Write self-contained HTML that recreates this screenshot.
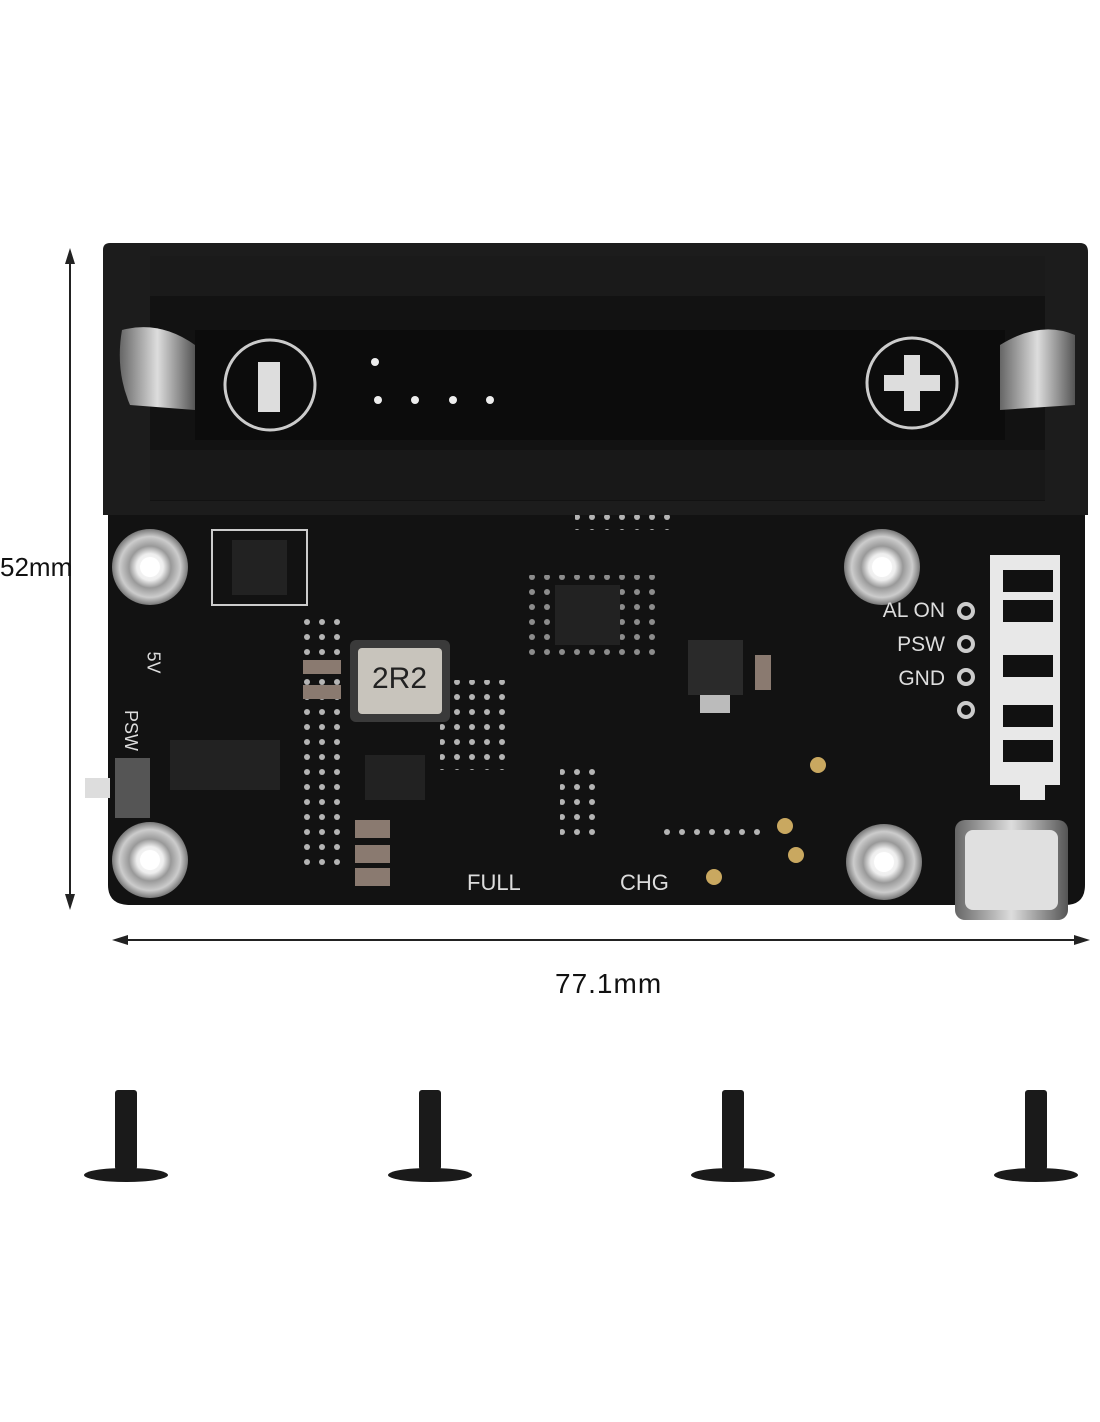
<!DOCTYPE html>
<html><head><style>
body{margin:0;width:1100px;height:1422px;background:#fff;position:relative;overflow:hidden;font-family:"Liberation Sans",sans-serif}
.a{position:absolute}
</style></head><body>
<svg class="a" style="left:0;top:0" width="1100" height="1422">
<defs>
<radialGradient id="m" cx="50%" cy="50%" r="50%"><stop offset="0" stop-color="#fff"/><stop offset=".35" stop-color="#eee"/><stop offset=".55" stop-color="#999"/><stop offset=".8" stop-color="#ccc"/><stop offset="1" stop-color="#777"/></radialGradient>
<linearGradient id="c" x1="0" x2="1"><stop offset="0" stop-color="#666"/><stop offset=".5" stop-color="#ddd"/><stop offset="1" stop-color="#555"/></linearGradient>
<pattern id="d" width="15" height="15" patternUnits="userSpaceOnUse"><circle cx="7" cy="7" r="3" fill="#ddd"/></pattern>
</defs>
<line x1="70" y1="258" x2="70" y2="900" stroke="#222" stroke-width="2"/>
<polygon points="70,248 65,264 75,264" fill="#222"/><polygon points="70,910 65,894 75,894" fill="#222"/>
<line x1="120" y1="940" x2="1080" y2="940" stroke="#222" stroke-width="2"/>
<polygon points="112,940 128,935 128,945" fill="#222"/><polygon points="1090,940 1074,935 1074,945" fill="#222"/>
<path d="M103,250 Q103,243 110,243 L1080,243 Q1088,243 1088,252 L1088,515 L103,515 Z" fill="#1c1c1c"/>
<rect x="150" y="256" width="895" height="245" fill="#121212"/>
<rect x="150" y="256" width="895" height="40" fill="#1a1a1a"/>
<rect x="195" y="330" width="810" height="110" fill="#0c0c0c"/>
<rect x="150" y="450" width="895" height="50" fill="#181818"/>
<circle cx="270" cy="385" r="45" fill="none" stroke="#ccc" stroke-width="3"/>
<rect x="258" y="362" width="22" height="50" fill="#ddd"/>
<circle cx="912" cy="383" r="45" fill="none" stroke="#ccc" stroke-width="3"/>
<rect x="904" y="355" width="16" height="56" fill="#ddd"/><rect x="884" y="375" width="56" height="16" fill="#ddd"/>
<circle cx="375" cy="362" r="4" fill="#eee"/>
<circle cx="378" cy="400" r="4" fill="#eee"/><circle cx="415" cy="400" r="4" fill="#eee"/><circle cx="453" cy="400" r="4" fill="#eee"/><circle cx="490" cy="400" r="4" fill="#eee"/>
<path d="M122,330 Q160,320 195,345 L195,410 L130,405 Q115,370 122,330Z" fill="url(#c)"/>
<path d="M1000,345 Q1040,320 1075,335 L1075,405 L1000,410Z" fill="url(#c)"/>
<path d="M108,515 L1085,515 L1085,885 Q1085,905 1065,905 L130,905 Q108,905 108,885 Z" fill="#121212"/>
<rect x="300" y="615" width="45" height="255" fill="url(#d)" opacity=".8"/>
<rect x="440" y="680" width="70" height="90" fill="url(#d)" opacity=".8"/>
<rect x="560" y="765" width="40" height="75" fill="url(#d)" opacity=".8"/>
<rect x="528" y="575" width="135" height="80" fill="url(#d)" opacity=".6"/>
<rect x="575" y="515" width="100" height="15" fill="url(#d)" opacity=".8"/>
<rect x="655" y="822" width="110" height="15" fill="url(#d)" opacity=".8"/>
<circle cx="150" cy="567" r="38" fill="url(#m)"/><circle cx="150" cy="567" r="10" fill="#fff"/>
<circle cx="882" cy="567" r="38" fill="url(#m)"/><circle cx="882" cy="567" r="10" fill="#fff"/>
<circle cx="150" cy="860" r="38" fill="url(#m)"/><circle cx="150" cy="860" r="10" fill="#fff"/>
<circle cx="884" cy="862" r="38" fill="url(#m)"/><circle cx="884" cy="862" r="10" fill="#fff"/>
<path d="M990,555 L1060,555 L1060,785 L1045,785 L1045,800 L1020,800 L1020,785 L990,785Z" fill="#e8e8e8"/>
<g fill="#111"><rect x="1003" y="570" width="50" height="22"/><rect x="1003" y="600" width="50" height="22"/><rect x="1003" y="655" width="50" height="22"/><rect x="1003" y="705" width="50" height="22"/><rect x="1003" y="740" width="50" height="22"/></g>
<g fill="#ccc"><circle cx="966" cy="611" r="9"/><circle cx="966" cy="644" r="9"/><circle cx="966" cy="677" r="9"/><circle cx="966" cy="710" r="9"/></g>
<g fill="#111"><circle cx="966" cy="611" r="5"/><circle cx="966" cy="644" r="5"/><circle cx="966" cy="677" r="5"/><circle cx="966" cy="710" r="5"/></g>
<rect x="212" y="530" width="95" height="75" fill="none" stroke="#ccc" stroke-width="2"/>
<rect x="232" y="540" width="55" height="55" fill="#222"/>
<rect x="170" y="740" width="110" height="50" fill="#222"/>
<rect x="350" y="640" width="100" height="82" rx="6" fill="#3a3a3a"/>
<rect x="358" y="648" width="84" height="66" rx="4" fill="#c8c4bc"/>
<rect x="688" y="640" width="55" height="55" fill="#2a2a2a"/>
<rect x="700" y="695" width="30" height="18" fill="#bbb"/>
<rect x="555" y="585" width="65" height="60" fill="#222"/>
<rect x="365" y="755" width="60" height="45" fill="#222"/>
<rect x="115" y="758" width="35" height="60" fill="#555"/><rect x="85" y="778" width="25" height="20" fill="#ddd"/>
<g fill="#8a7a70"><rect x="355" y="820" width="35" height="18"/><rect x="355" y="845" width="35" height="18"/><rect x="355" y="868" width="35" height="18"/><rect x="303" y="660" width="38" height="14"/><rect x="303" y="685" width="38" height="14"/><rect x="755" y="655" width="16" height="35"/></g>
<g fill="#c9a860"><circle cx="818" cy="765" r="8"/><circle cx="785" cy="826" r="8"/><circle cx="796" cy="855" r="8"/><circle cx="714" cy="877" r="8"/></g>
<rect x="955" y="820" width="113" height="100" rx="10" fill="url(#c)"/>
<rect x="965" y="830" width="93" height="80" rx="8" fill="#e0e0e0"/>
<g fill="#1a1a1a">
<rect x="115" y="1090" width="22" height="80" rx="3"/><ellipse cx="126" cy="1175" rx="42" ry="7"/>
<rect x="419" y="1090" width="22" height="80" rx="3"/><ellipse cx="430" cy="1175" rx="42" ry="7"/>
<rect x="722" y="1090" width="22" height="80" rx="3"/><ellipse cx="733" cy="1175" rx="42" ry="7"/>
<rect x="1025" y="1090" width="22" height="80" rx="3"/><ellipse cx="1036" cy="1175" rx="42" ry="7"/>
</g>
</svg>
<div class="a" style="left:0;top:552px;font-size:26px;color:#111">52mm</div>
<div class="a" style="left:555px;top:968px;font-size:28px;color:#111;letter-spacing:1px">77.1mm</div>
<div class="a" style="left:372px;top:662px;font-size:30px;color:#222">2R2</div>
<div class="a" style="left:467px;top:870px;font-size:22px;color:#ddd">FULL</div>
<div class="a" style="left:620px;top:870px;font-size:22px;color:#ddd">CHG</div>
<div class="a" style="left:880px;top:594px;width:65px;text-align:right;font-size:21px;color:#ddd;line-height:34px">AL ON<br>PSW<br>GND</div>
<div class="a" style="left:142px;top:652px;font-size:18px;color:#ddd;transform:rotate(90deg)">5V</div>
<div class="a" style="left:110px;top:720px;font-size:18px;color:#ddd;transform:rotate(90deg)">PSW</div>
</body></html>
